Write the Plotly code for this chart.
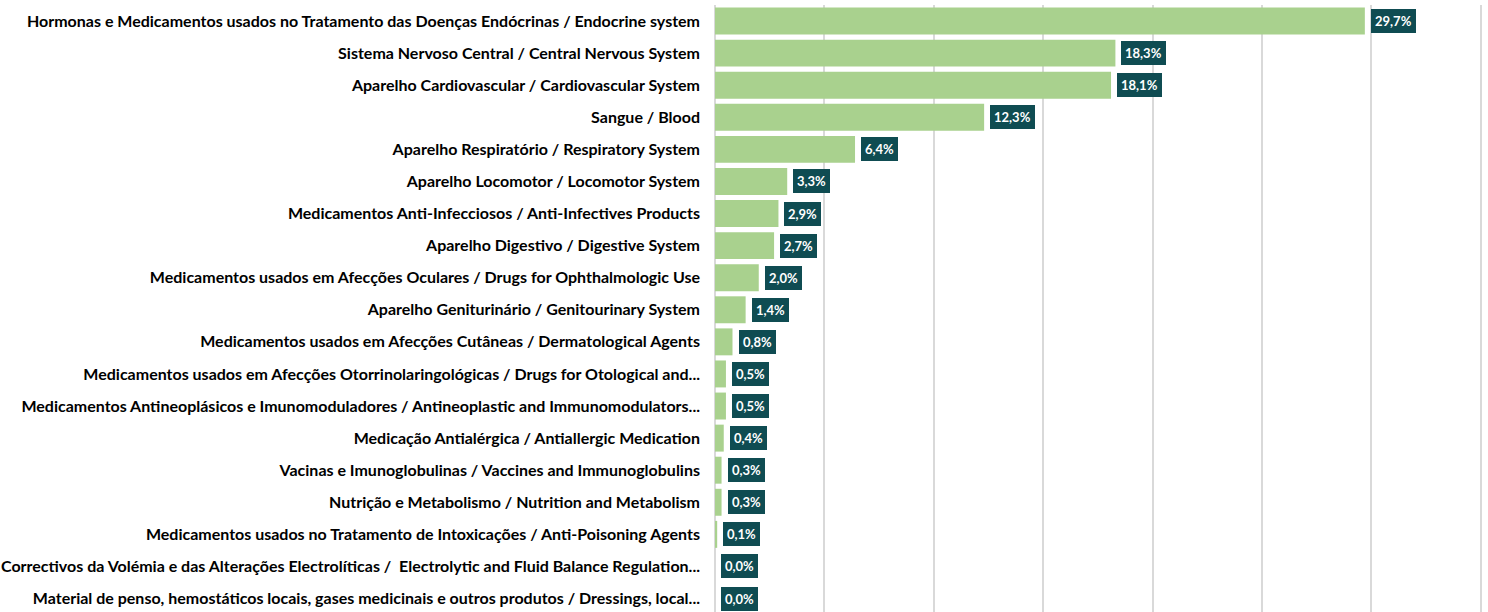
import plotly.graph_objects as go

categories = [
    "Hormonas e Medicamentos usados no Tratamento das Doenças Endócrinas / Endocrine system",
    "Sistema Nervoso Central / Central Nervous System",
    "Aparelho Cardiovascular / Cardiovascular System",
    "Sangue / Blood",
    "Aparelho Respiratório / Respiratory System",
    "Aparelho Locomotor / Locomotor System",
    "Medicamentos Anti-Infecciosos / Anti-Infectives Products",
    "Aparelho Digestivo / Digestive System",
    "Medicamentos usados em Afecções Oculares / Drugs for Ophthalmologic Use",
    "Aparelho Geniturinário / Genitourinary System",
    "Medicamentos usados em Afecções Cutâneas / Dermatological Agents",
    "Medicamentos usados em Afecções Otorrinolaringológicas / Drugs for Otological and...",
    "Medicamentos Antineoplásicos e Imunomoduladores / Antineoplastic and Immunomodulators...",
    "Medicação Antialérgica / Antiallergic Medication",
    "Vacinas e Imunoglobulinas / Vaccines and Immunoglobulins",
    "Nutrição e Metabolismo / Nutrition and Metabolism",
    "Medicamentos usados no Tratamento de Intoxicações / Anti-Poisoning Agents",
    "Correctivos da Volémia e das Alterações Electrolíticas /  Electrolytic and Fluid Balance Regulation...",
    "Material de penso, hemostáticos locais, gases medicinais e outros produtos / Dressings, local...",
]
values = [29.7, 18.3, 18.1, 12.3, 6.4, 3.3, 2.9, 2.7, 2.0, 1.4, 0.8, 0.5, 0.5, 0.4, 0.3, 0.3, 0.1, 0.0, 0.0]
labels = [f"{v:.1f}%".replace(".", ",") for v in values]

FONT = "Lato, 'Open Sans', sans-serif"

fig = go.Figure(go.Bar(
    x=values, y=categories, orientation="h",
    marker=dict(color="#A9D18E", line=dict(width=0)),
    hoverinfo="skip",
))

annotations = []
for c, v, t in zip(categories, values, labels):
    annotations.append(dict(
        x=v, y=c, xref="x", yref="y", text=f"<b>{t}</b>", showarrow=False,
        xanchor="left", yanchor="middle", xshift=6,
        font=dict(family=FONT, size=13, color="white"),
        bgcolor="#0F4C52", bordercolor="#0F4C52", borderpad=3,
    ))

fig.update_layout(
    width=1488, height=612,
    margin=dict(l=715, r=5, t=5, b=0),
    paper_bgcolor="white", plot_bgcolor="white",
    bargap=0.16,
    showlegend=False,
    hovermode=False,
    annotations=annotations,
    xaxis=dict(range=[0, 35.1], dtick=5, showticklabels=False, showgrid=True,
               gridcolor="#D9D9D9", gridwidth=1.5, zeroline=True,
               zerolinecolor="#D9D9D9", zerolinewidth=1.5, showline=False),
    yaxis=dict(range=[18.42, -0.5], type="category", showgrid=False,
               tickfont=dict(family=FONT, size=16, color="black", weight="bold"),
               ticks="", ticklabelstandoff=14, automargin=False),
)

fig.write_html("out.html", config={"displayModeBar": False},
               post_script="document.body.style.margin='0';document.body.style.padding='0';")
